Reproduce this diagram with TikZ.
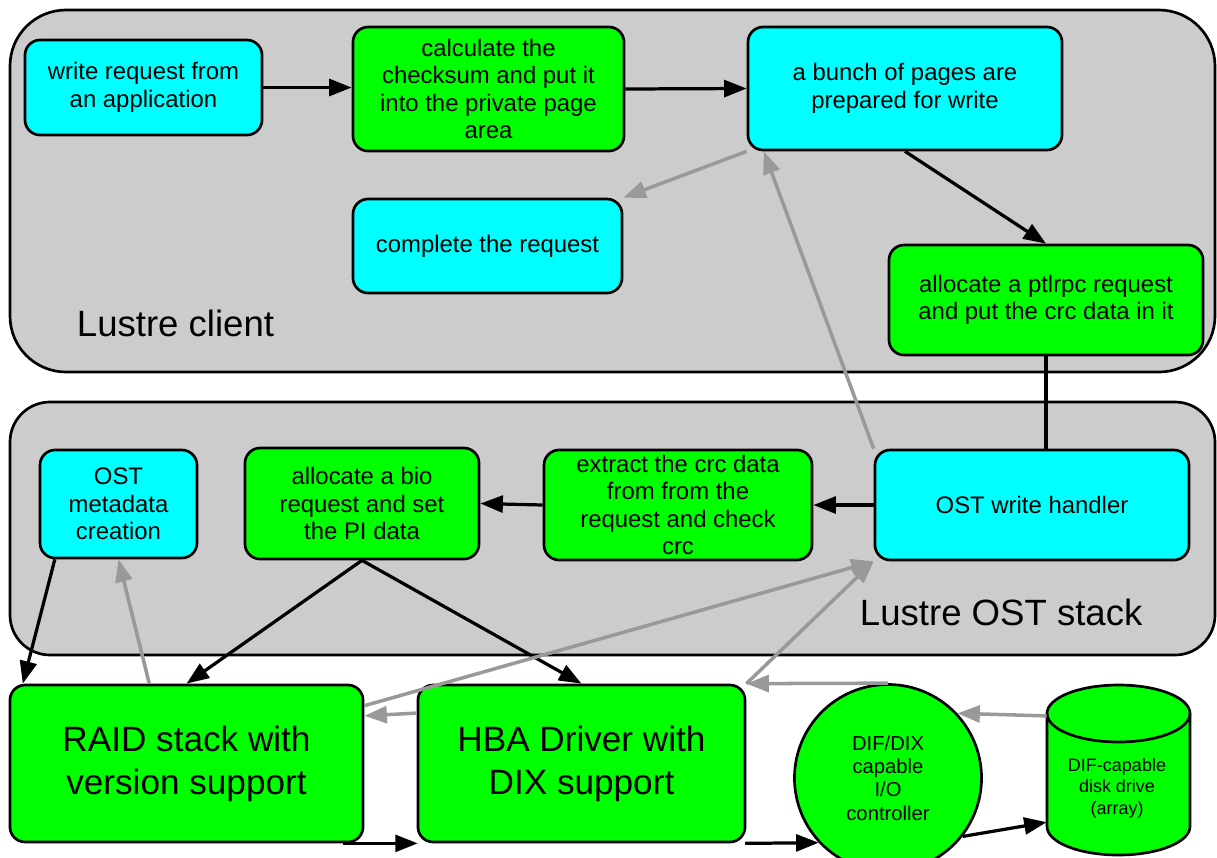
\documentclass[tikz,border=0pt]{standalone}
\usepackage{fontspec}
\setmainfont{Liberation Sans}
\usetikzlibrary{arrows.meta}

\definecolor{boxcyan}{HTML}{00FFFF}
\definecolor{boxgreen}{HTML}{00FF00}
\definecolor{layergray}{HTML}{CCCCCC}
\definecolor{backgray}{HTML}{999999}

\begin{document}
\begin{tikzpicture}[x=0.025cm, y=-0.025cm,
        layer/.style={draw=black, line width=1.9pt, fill=layergray},
        stepbox/.style={draw=black, line width=1.9pt, rounded corners=0.38cm, align=center, inner sep=2pt,
            font=\fontsize{17pt}{19.5pt}\selectfont},
        client/.style={stepbox, fill=boxcyan},
        work/.style={stepbox, fill=boxgreen},
        bigbox/.style={work, font=\fontsize{25pt}{30.5pt}\selectfont},
        flow/.style={draw=black, line width=2.3pt, -{Triangle[length=16pt,width=12pt]}},
        back/.style={draw=backgray, line width=2.5pt, -{Triangle[length=16pt,width=12pt]}}]
        \useasboundingbox (0, 0) rectangle (1217, 857);

        % the two layers
        \draw[layer, rounded corners=1.4cm] (10, 10) rectangle (1215, 372);
        \draw[layer, rounded corners=1.0cm] (10, 402) rectangle (1215, 655);
        \node[anchor=west, font=\fontsize{26pt}{30pt}\selectfont] (clientlabel) at (72, 323) {Lustre client};
        \node[anchor=west, font=\fontsize{26pt}{30pt}\selectfont] (ostlabel) at (855, 612) {Lustre OST stack};

        % client side
        \node[client, minimum width=5.925cm, minimum height=2.375cm] (write) at (143.5, 87.5) {write request from\\an application};
        \node[work, minimum width=6.775cm, minimum height=3.1cm] (checksum) at (488.5, 89) {calculate the\\checksum and put it\\into the private page\\area};
        \node[client, minimum width=7.85cm, minimum height=3.075cm] (pages) at (905, 88.5) {a bunch of pages are\\prepared for write};
        \node[client, minimum width=6.725cm, minimum height=2.35cm] (complete) at (487.5, 246) {complete the request};
        \node[work, minimum width=7.85cm, minimum height=2.75cm] (ptlrpc) at (1046, 300) {allocate a ptlrpc request\\and put the crc data in it};

        % OST side
        \node[client, minimum width=3.925cm, minimum height=2.7cm] (meta) at (118.5, 504) {OST\\metadata\\creation};
        \node[work, minimum width=5.85cm, minimum height=2.775cm] (bio) at (362, 503.5) {allocate a bio\\request and set\\the PI data};
        \node[work, minimum width=6.7cm, minimum height=2.75cm] (extract) at (678, 505) {extract the crc data\\from from the\\request and check\\crc};
        \node[client, minimum width=7.85cm, minimum height=2.75cm] (handler) at (1032, 505) {OST write handler};

        % storage
        \node[bigbox, minimum width=8.825cm, minimum height=3.925cm] (raid) at (186.5, 763.5) {RAID stack with\\version support};
        \node[bigbox, minimum width=8.175cm, minimum height=3.925cm] (hba) at (581.5, 763.5) {HBA Driver with\\DIX support};
        \node[circle, draw=black, line width=1.9pt, fill=boxgreen, minimum size=4.675cm, align=center,
            font=\fontsize{14.4pt}{16.6pt}\selectfont] (ctrl) at (888, 778) {DIF/DIX\\capable\\I/O\\controller};

        % disk drive drawn as a cylinder
        \draw[draw=black, line width=1.9pt, fill=boxgreen] (1047, 713.5) -- (1047, 826.5)
            arc[start angle=180, end angle=0, x radius=71.5, y radius=28.5] -- (1190, 713.5)
            arc[start angle=0, end angle=-180, x radius=71.5, y radius=28.5] -- cycle;
        \draw[line width=1.9pt] (1047, 713.5) arc[start angle=180, end angle=0, x radius=71.5, y radius=28.5];
        \node[minimum width=3.575cm, minimum height=4.25cm] (disk) at (1118.5, 770) {};
        \node[align=center, font=\fontsize{12.8pt}{15.3pt}\selectfont] (disklabel) at (1117, 788) {DIF-capable\\disk drive\\(array)};

        % write path
        \draw[flow] (write.east) -- (checksum.west |- write.east);
        \draw[flow] (checksum.east) -- (pages.west);
        \draw[flow] (pages.south) -- (ptlrpc.north);
        \draw[line width=2.3pt] (ptlrpc.south) -- (ptlrpc.south |- handler.north);
        \draw[flow] (handler.west) -- (extract.east);
        \draw[flow] (extract.west) -- (bio.east);
        \draw[flow] (bio.south) -- (raid.north);
        \draw[flow] (bio.south) -- (hba.north);
        \draw[flow] (meta.221) -- (raid.154);
        \draw[flow] (raid.-27) -- (hba.206);
        \draw[flow] (hba.-26) -- (ctrl.223);
        \draw[flow] (ctrl.-38) -- (disk.216);

        % completion path
        \draw[back] (disk.143) -- (ctrl.43);
        \draw[back] (ctrl.north) -- (hba.north east);
        \draw[back] (hba.163) -- (raid.15);
        \draw[back] (raid.115) -- (meta.south);
        \draw[back] (hba.north east) -- (handler.south west);
        \draw[back] (raid.18) -- (handler.south west);
        \draw[back] (handler.north west) -- (pages.204);
        \draw[back] (pages.south west) -- (complete.north east);
    \end{tikzpicture}
\end{document}
